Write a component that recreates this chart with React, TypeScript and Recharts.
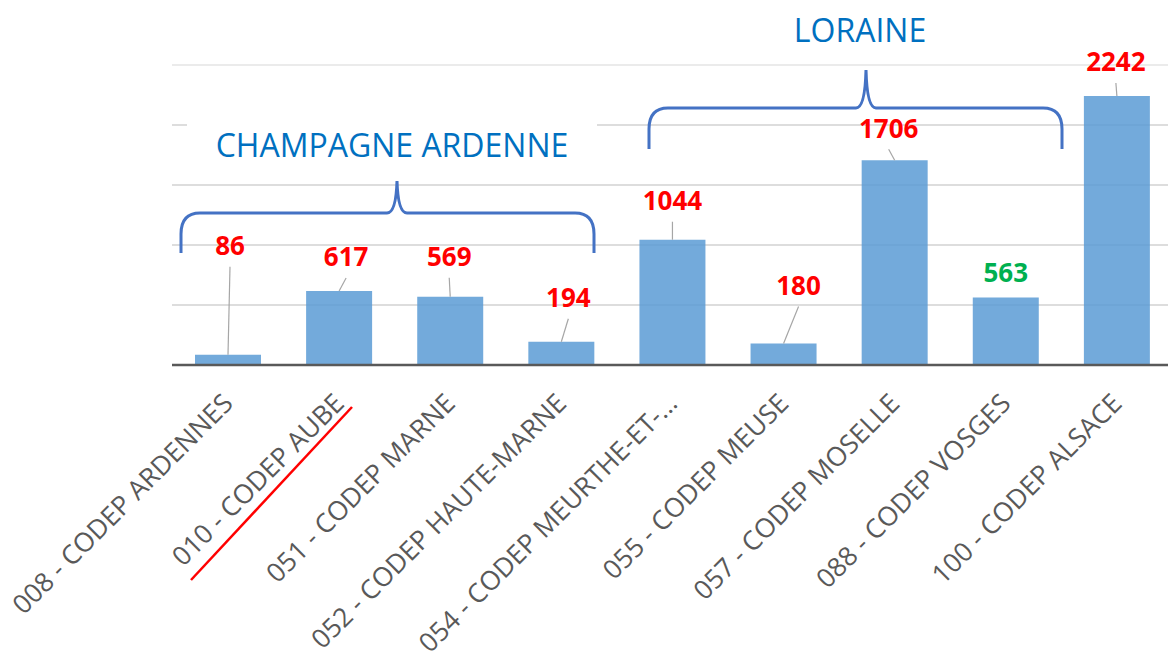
import React from "react";
import { BarChart, Bar, XAxis, YAxis, CartesianGrid, LabelList } from "recharts";

const FONT = "'Open Sans', 'Noto Sans', sans-serif";

const categories = [
  "008 - CODEP ARDENNES",
  "010 - CODEP AUBE",
  "051 - CODEP MARNE",
  "052 - CODEP HAUTE-MARNE",
  "054 - CODEP MEURTHE-ET-...",
  "055 - CODEP MEUSE",
  "057 - CODEP MOSELLE",
  "088 - CODEP VOSGES",
  "100 - CODEP ALSACE",
];
const values = [86, 617, 569, 194, 1044, 180, 1706, 563, 2242];
const yTicks = [0, 500, 1000, 1500, 2000, 2500];

// styling for the data callouts (label colour and offset from the bar top)
const labelColors = ["#FF0000", "#FF0000", "#FF0000", "#FF0000", "#FF0000", "#FF0000", "#FF0000", "#00B050", "#FF0000"];
const labelOffsets = [
  { dx: 2, dy: -109 },
  { dx: 7, dy: -34 },
  { dx: -1, dy: -40 },
  { dx: 7, dy: -44 },
  { dx: 0, dy: -39 },
  { dx: 15, dy: -58 },
  { dx: -6, dy: -32 },
  { dx: 0, dy: -25 },
  { dx: -1, dy: -34 },
];

const data = categories.map((name, i) => ({ name, value: values[i] }));

function AxisTick(props: any) {
  const { x, y, payload } = props;
  const ax = x + 7;
  const ay = y + 32;
  return (
    <text
      x={ax}
      y={ay}
      textAnchor="end"
      transform={`rotate(-45, ${ax}, ${ay})`}
      fill="#595959"
      fontSize={26.5}
      fontFamily={FONT}
    >
      {payload.value}
    </text>
  );
}

function renderLabel(props: any) {
  const { x, y, width, value, index } = props;
  const bx = Number(x) + Number(width) / 2;
  const by = Number(y);
  const off = labelOffsets[index] || { dx: 0, dy: -30 };
  const lx = bx + off.dx;
  const cy = by + off.dy;
  const startY = cy + 21;
  return (
    <g key={`lbl-${index}`}>
      {by - startY > 5 && (
        <line x1={lx} y1={startY} x2={bx} y2={by} stroke="#a6a6a6" strokeWidth={1.2} />
      )}
      <text
        x={lx}
        y={cy + 9.5}
        textAnchor="middle"
        fill={labelColors[index]}
        fontSize={26}
        fontWeight="bold"
        fontFamily={FONT}
      >
        {value}
      </text>
    </g>
  );
}

function gridLine(props: any) {
  const { x1, x2, y1, y2, index } = props;
  const light = y1 < 90;
  return (
    <line
      key={`gl-${index}-${y1}`}
      x1={x1}
      x2={x2}
      y1={y1}
      y2={y2}
      stroke={light ? "#e4e4e4" : "#d2d2d2"}
      strokeWidth={1.5}
    />
  );
}

export default function App() {
  return (
    <div
      style={{
        position: "absolute",
        left: 0,
        top: 0,
        width: 1168,
        height: 662,
        overflow: "hidden",
        background: "#ffffff",
        fontFamily: FONT,
      }}
    >
      <BarChart
        width={1172}
        height={662}
        data={data}
        margin={{ top: 65, right: 0, left: 172, bottom: 0 }}
      >
        <CartesianGrid vertical={false} horizontal={gridLine} />
        <XAxis
          dataKey="name"
          interval={0}
          tickLine={false}
          axisLine={{ stroke: "#595959", strokeWidth: 2.5 }}
          height={297}
          tick={AxisTick}
        />
        <YAxis hide domain={[0, 2500]} ticks={yTicks} />
        <Bar dataKey="value" fill="#5b9bd5" fillOpacity={0.85} barSize={66} isAnimationActive={false}>
          <LabelList dataKey="value" content={renderLabel} />
        </Bar>
      </BarChart>
      <svg
        width={1168}
        height={662}
        style={{ position: "absolute", left: 0, top: 0, pointerEvents: "none" }}
      >
        <rect x={187} y={112} width={410} height={58} fill="#ffffff" />
        <text x={392} y={157} textAnchor="middle" fill="#0070C0" fontSize={32} fontFamily={FONT}>
          CHAMPAGNE ARDENNE
        </text>
        <text x={860} y={42} textAnchor="middle" fill="#0070C0" fontSize={32} fontFamily={FONT}>
          LORAINE
        </text>
        <path
          d="M181,253 L181,234 Q181,213 200,213 L387,213 Q396,213 397,181 Q398,213 407,213 L575,213 Q594,213 594,234 L594,253"
          fill="none"
          stroke="#4472C4"
          strokeWidth={3}
        />
        <path
          d="M649,149 L649,129 Q649,108 668,108 L856,108 Q865,108 866,70 Q867,108 876,108 L1043,108 Q1062,108 1062,129 L1062,149"
          fill="none"
          stroke="#4472C4"
          strokeWidth={3}
        />
        <line x1={191} y1={580} x2={352} y2={407} stroke="#FF0000" strokeWidth={2.5} />
      </svg>
    </div>
  );
}
